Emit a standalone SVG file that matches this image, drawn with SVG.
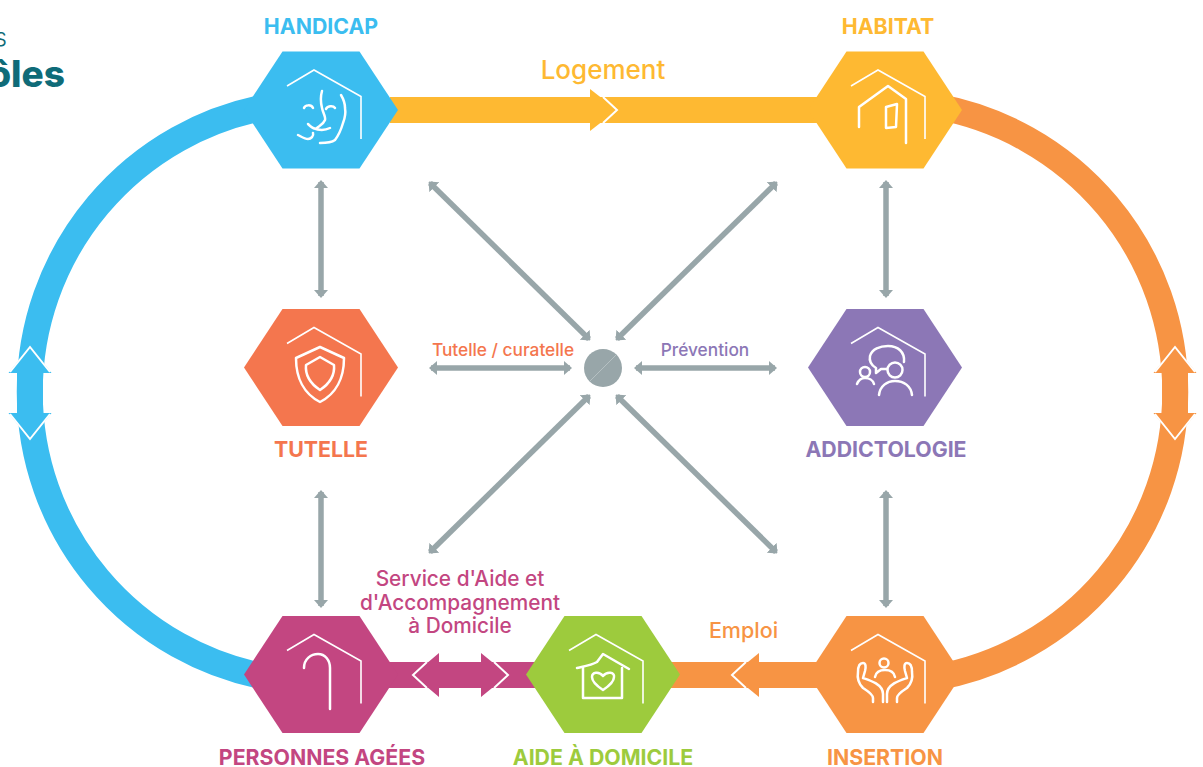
<svg xmlns="http://www.w3.org/2000/svg" width="1203" height="767" viewBox="0 0 1203 767">
<style>
text{font-family:"Inter","Noto Sans",sans-serif;text-anchor:middle}
.n{font-size:21.300px;font-weight:700}
.m{font-size:20.800px;font-weight:500}
.s{font-size:17.300px;font-weight:500}
.g{fill:none;stroke:#98a6a9;stroke-width:5.500;marker-start:url(#g);marker-end:url(#g)}
.w{fill:none;stroke:#fff;stroke-width:2.500;stroke-linecap:round;stroke-linejoin:round}
.h{fill:none;stroke:#fff;stroke-width:1.600;stroke-linejoin:miter}
.c{fill:none;stroke:#fff;stroke-width:2}
</style>
<defs>
<marker id="g" viewBox="0 0 8 14" refX="6" refY="7" markerWidth="8" markerHeight="14" markerUnits="userSpaceOnUse" orient="auto-start-reverse"><path d="M0 0L8 7L0 14Z" fill="#98a6a9"/></marker>
<polygon id="hex" points="-77,0 -38.500,-58.500 38.500,-58.500 77,0 38.500,58.500 -38.500,58.500"/>
<path id="roof" class="h" d="M-34,-24L-7,-40L40,-13.500V29"/>
</defs>
<text x="65" y="87" style="text-anchor:end;font-size:37px;font-weight:800;fill:#0f6b78">ôles</text>
<text x="7" y="46" style="text-anchor:end;font-size:24px;font-weight:300;fill:#0f6b78">s</text>
<g id="connectors">
<path d="M270 106.300A290 290 0 0 0 270 677.700" fill="none" stroke="#3bbdf0" stroke-width="26"/>
<path d="M935 106.300A290 290 0 0 1 935 677.700" fill="none" stroke="#f79444" stroke-width="26"/>
<path d="M30 346L51.500 373H43V413H51.500L30 440L8.500 413H17V373H8.500Z" fill="#3bbdf0"/>
<path class="c" d="M10 372L30 347L50 372M10 414L30 439L50 414"/>
<path d="M1175 346L1196.500 373H1188V413H1196.500L1175 440L1153.500 413H1162V373H1153.500Z" fill="#f79444"/>
<path class="c" d="M1155 372L1175 347L1195 372M1155 414L1175 439L1195 414"/>
<rect x="390" y="97" width="430" height="26" fill="#feb932"/>
<path d="M590 89L617 110L590 131Z" fill="#feb932"/>
<path class="c" d="M603 97L617 110L603 123"/>
<rect x="385" y="662" width="160" height="26" fill="#c34681"/>
<path d="M439 653L413 675L439 697ZM481 653L508 675L481 697Z" fill="#c34681"/>
<path class="c" d="M427 662L413 675L427 688M494 662L508 675L494 688"/>
<rect x="665" y="662" width="160" height="26" fill="#f79444"/>
<path d="M759 653L732 675L759 697Z" fill="#f79444"/>
<path class="c" d="M746 662L732 675L746 688"/>
<line class="g" x1="321" y1="182" x2="321" y2="296"/>
<line class="g" x1="321" y1="492" x2="321" y2="606"/>
<line class="g" x1="886" y1="182" x2="886" y2="296"/>
<line class="g" x1="886" y1="492" x2="886" y2="606"/>
<line class="g" x1="431" y1="368" x2="570" y2="368"/>
<line class="g" x1="636" y1="368" x2="775" y2="368"/>
<line class="g" x1="430" y1="183" x2="589" y2="339"/>
<line class="g" x1="776" y1="183" x2="617" y2="339"/>
<line class="g" x1="430" y1="552" x2="589" y2="396"/>
<line class="g" x1="776" y1="552" x2="617" y2="396"/>
</g>
<g id="center"><circle cx="603" cy="368" r="19" fill="#98a6a9"/><line x1="590" y1="381" x2="616" y2="355" stroke="#b5c0c2" stroke-width="1"/></g>
<g id="handicap"><use href="#hex" x="321" y="110" fill="#3bbdf0"/><use href="#roof" x="321" y="110"/>
<path class="w" d="M322 91C320 98 321 104 322 108C323 113 326 117 325 120C323 125 319 126 317 128C315 130 311 127 308 124M304 108C305 105 311 104 313 108M326 109C327 106 333 105 335 108M313 128C320 131 326 130 330 128M298 135C302 137 305 139 308 139C311 139 314 136 313 133M341 95C344 100 345 104 345 108C346 114 345 118 343 123C341 130 338 136 335 140C331 143 326 143 320 143"/>
<text class="n" x="321" y="34" fill="#3bbdf0">HANDICAP</text></g>
<g id="habitat"><use href="#hex" x="885" y="110" fill="#feb932"/><use href="#roof" x="885" y="110"/>
<path class="w" d="M859 127V107L888 86L906 99V143M886 107L897 104L896 127L886 128Z"/>
<text class="n" x="888" y="34" fill="#feb932">HABITAT</text></g>
<g id="tutelle"><use href="#hex" x="321" y="367.500" fill="#f4764e"/><use href="#roof" x="321" y="367.500"/>
<path class="w" d="M320 347L344 358C344 378 336 394 320 402C304 394 296 378 296 358ZM320 357L334 365C335 376 329 384 320 390C311 384 305 376 306 365Z"/>
<text class="n" x="321" y="457" fill="#f4764e">TUTELLE</text></g>
<g id="addictologie"><use href="#hex" x="885" y="367.500" fill="#8c77b6"/><use href="#roof" x="885" y="367.500"/>
<path class="w" d="M887 369C884 369 882 369 881 369L876 373V368C871 365 869 361 870 356C872 349 880 346 888 346C898 346 905 352 904 362"/>
<circle class="w" cx="895" cy="370" r="7.500"/><circle class="w" cx="865" cy="372" r="5"/>
<path class="w" d="M879 395C880 386 887 381 895 381C904 381 911 386 912 395M857 384C859 379 862 378 865 378C869 378 873 380 874 384"/>
<text class="n" x="886" y="457" fill="#8c77b6">ADDICTOLOGIE</text></g>
<g id="personnes"><use href="#hex" x="321" y="674.500" fill="#c34681"/><use href="#roof" x="321" y="674.500"/>
<path class="w" d="M304 668C304 659 311 654 318 654C325 654 330 660 330 668V709"/>
<text class="n" x="322" y="765" fill="#c34681">PERSONNES AGÉES</text></g>
<g id="aide"><use href="#hex" x="603" y="674.500" fill="#9dcb3d"/><use href="#roof" x="603" y="674.500"/>
<path class="w" d="M577 668C586 666 592 665 597 662L603 654L629 669M583 667V698H622V668M603 690C597 686 592 682 592 677C592 672 599 671 603 676C607 671 615 672 614 677C614 682 609 686 603 690Z"/>
<text class="n" x="603" y="765" fill="#9dcb3d">AIDE À DOMICILE</text></g>
<g id="insertion"><use href="#hex" x="885" y="674.500" fill="#f79444"/><use href="#roof" x="885" y="674.500"/>
<circle class="w" cx="884" cy="663" r="4.500"/>
<path class="w" d="M873 702V698C873 694 866 690 863 688C859 684 857 678 858 672C858 666 860 663 863 663C866 663 866 667 865 671L863 678C869 680 883 684 883 694V702"/>
<path class="w" d="M897 702V698C897 694 904 690 907 688C911 684 913 678 912 672C912 666 910 663 907 663C904 663 904 667 905 671L907 678C901 680 887 684 887 694V702M875 677C876 672 880 670 885 670C890 670 894 672 895 677"/>
<text class="n" x="885" y="765" fill="#f79444">INSERTION</text></g>
<text x="603" y="79" style="font-size:26px;font-weight:500" fill="#feb932">Logement</text>
<text class="s" x="503" y="356" fill="#f4764e">Tutelle / curatelle</text>
<text class="s" x="705" y="356" fill="#8c77b6">Prévention</text>
<text class="m" x="460" y="586" fill="#c34681">Service d'Aide et</text>
<text class="m" x="460" y="610" fill="#c34681">d'Accompagnement</text>
<text class="m" x="460" y="633" fill="#c34681">à Domicile</text>
<text x="743.500" y="638" style="font-size:21.500px;font-weight:500" fill="#f79444">Emploi</text>
</svg>
